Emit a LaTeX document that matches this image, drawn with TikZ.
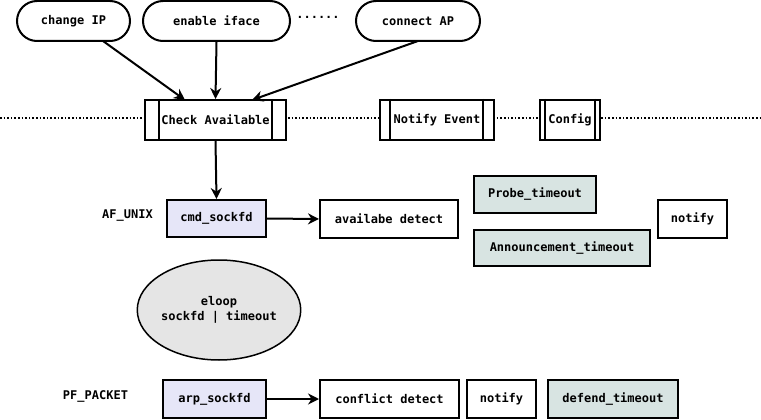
\documentclass[tikz,border=0pt]{standalone}
\usepackage{fontspec}
\setmonofont{DejaVu Sans Mono}
\usetikzlibrary{shapes.misc,shapes.geometric,arrows.meta}
\definecolor{lav}{HTML}{E6E6F8}
\definecolor{teal}{HTML}{D8E4E2}
\definecolor{elgray}{HTML}{E5E5E5}
\tikzset{
  txt/.style={font=\ttfamily\bfseries\fontsize{12}{14}\selectfont},
  pill/.style={txt,draw,line width=2pt,rounded rectangle,inner sep=0pt},
  box/.style={txt,draw,line width=2pt,rectangle,inner sep=0pt},
  proc/.style={box},
  arr/.style={-{Stealth[length=11pt,width=11pt]},line width=2pt},
}
\begin{document}
\begin{tikzpicture}[x=1pt,y=-1pt]
\useasboundingbox (0,0) rectangle (761,420);
% horizontal dotted line
\draw[line width=1.6pt,dotted] (0,118) -- (761,118);
% top pills
\node[pill,minimum width=113pt,minimum height=40pt] (chg) at (73.5,21) {change IP};
\node[pill,minimum width=147pt,minimum height=40pt] (ena) at (216.5,21) {enable iface};
\node[pill,minimum width=124pt,minimum height=40pt] (con) at (418,21) {connect AP};
\node[txt,inner sep=0pt] (dots) at (318,17) {......};
% process boxes with double sides
\node[proc,fill=white,minimum width=141pt,minimum height=40pt] (chk) at (215.5,120) {Check Available};
\draw[line width=2pt] ([xshift=15pt]chk.north west) -- ([xshift=15pt]chk.south west)
  ([xshift=-15pt]chk.north east) -- ([xshift=-15pt]chk.south east);
\node[proc,fill=white,minimum width=114pt,minimum height=40pt] (ntf) at (437,120) {Notify Event};
\draw[line width=2pt] ([xshift=11pt]ntf.north west) -- ([xshift=11pt]ntf.south west)
  ([xshift=-12pt]ntf.north east) -- ([xshift=-12pt]ntf.south east);
\node[proc,fill=white,minimum width=60pt,minimum height=40pt] (cfg) at (570,120) {Config};
\draw[line width=2pt] ([xshift=6pt]cfg.north west) -- ([xshift=6pt]cfg.south west)
  ([xshift=-6pt]cfg.north east) -- ([xshift=-6pt]cfg.south east);
% arrows into check
\coordinate (c1) at (185,100);
\coordinate (c3) at (252,100);
\coordinate (s1) at (103,41);
\coordinate (s3) at (418,41);
\draw[arr] (s1) -- (c1);
\draw[arr] (ena.south) -- (chk.north);
\draw[arr] (s3) -- (c3);
% AF_UNIX row
\node[txt,inner sep=0pt] (afu) at (127.5,216) {AF\_UNIX};
\node[box,fill=lav,minimum width=99pt,minimum height=37pt] (cmd) at (216.5,218.5) {cmd\_sockfd};
\node[box,fill=white,minimum width=138pt,minimum height=38pt] (avd) at (389,219) {availabe detect};
\node[box,fill=teal,minimum width=122pt,minimum height=37pt] (prb) at (535,194.5) {Probe\_timeout};
\node[box,fill=teal,minimum width=176pt,minimum height=36pt] (ann) at (562,248) {Announcement\_timeout};
\node[box,fill=white,minimum width=69pt,minimum height=38pt] (nt1) at (692.5,219) {notify};
\draw[arr] (chk.south) -- (cmd.north);
\draw[arr] (cmd.east) -- (avd.west);
% eloop
\node[txt,draw,line width=1.5pt,fill=elgray,ellipse,minimum width=158pt,minimum height=100pt,inner sep=0pt,align=center] (elp) at (219,310) {eloop\\[1pt]sockfd | timeout};
% PF_PACKET row
\node[txt,inner sep=0pt] (pfp) at (95.5,396) {PF\_PACKET};
\node[box,fill=lav,minimum width=103pt,minimum height=38pt] (arp) at (214.5,399) {arp\_sockfd};
\node[box,fill=white,minimum width=139pt,minimum height=38pt] (cfd) at (389.5,399) {conflict detect};
\node[box,fill=white,minimum width=69pt,minimum height=38pt] (nt2) at (501.5,399) {notify};
\node[box,fill=teal,minimum width=130pt,minimum height=38pt] (dfd) at (613,399) {defend\_timeout};
\draw[arr] (arp.east) -- (cfd.west);
\end{tikzpicture}
\end{document}
